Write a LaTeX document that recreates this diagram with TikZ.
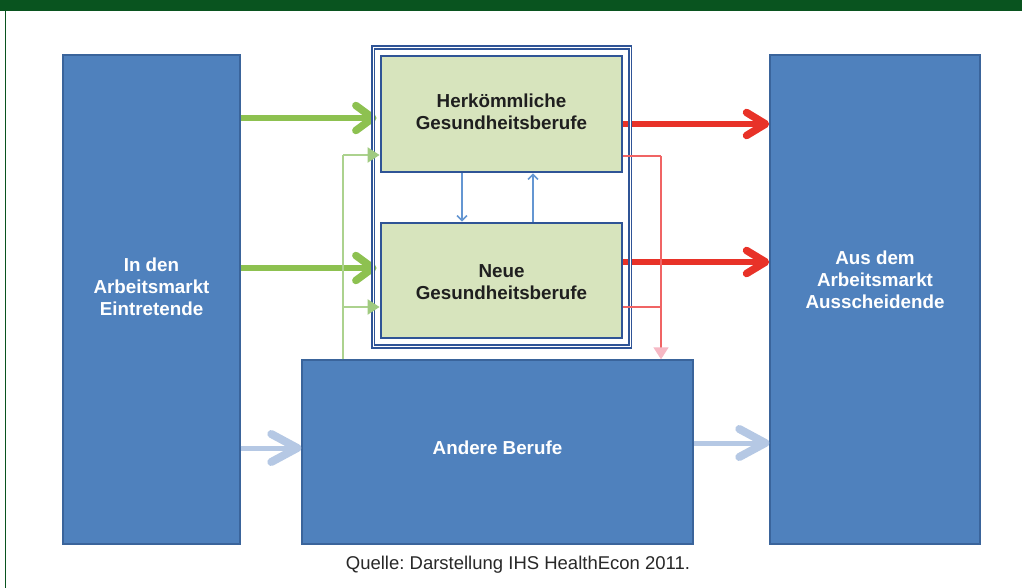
\documentclass[tikz,border=0pt]{standalone}
\usepackage{fontspec}
\setmainfont{Liberation Sans}
\usetikzlibrary{arrows.meta}
\definecolor{barg}{RGB}{9,84,31}
\definecolor{boxblue}{RGB}{79,129,189}
\definecolor{boxedge}{RGB}{58,100,155}
\definecolor{frameblue}{RGB}{47,84,150}
\definecolor{greenfill}{RGB}{215,228,189}
\definecolor{thickgreen}{RGB}{141,193,80}
\definecolor{thingreen}{RGB}{172,210,142}
\definecolor{greentip}{RGB}{160,202,128}
\definecolor{thickred}{RGB}{232,50,40}
\definecolor{thinred}{RGB}{240,100,100}
\definecolor{pinktip}{RGB}{246,184,196}
\definecolor{lightblue}{RGB}{181,200,228}
\definecolor{thinblue}{RGB}{100,150,210}
\definecolor{captiongray}{RGB}{40,40,40}
\begin{document}
\frenchspacing
\begin{tikzpicture}[x=1pt,y=-1pt,
  bluebox/.style={draw=boxedge,line width=1.4pt,fill=boxblue,inner sep=0pt},
  greenbox/.style={draw=frameblue,line width=2.8pt,fill=greenfill,inner sep=0pt,minimum width=241pt},
  whitetext/.style={text=white,align=center,inner sep=0pt,font=\bfseries\fontsize{18.8}{22}\selectfont},
  darktext/.style={text=black!88,align=center,inner sep=0pt,font=\bfseries\fontsize{18.8}{22}\selectfont},
  greenarrow/.style={thickgreen,line width=6pt,-{Straight Barb[length=17pt,width=25pt,line width=7.5pt,round]}},
  redarrow/.style={thickred,line width=6pt,-{Straight Barb[length=19pt,width=23pt,line width=7.5pt,round]}},
  lbluearrow/.style={lightblue,line width=5pt,-{Straight Barb[length=26pt,width=28pt,line width=8pt,round]}},
  thingreenline/.style={thingreen,line width=2pt},
  thingreenarrow/.style={thingreen,line width=2pt,-{Triangle[length=12pt,width=15pt,color=greentip,fill=greentip]}},
  thinredline/.style={thinred,line width=1.5pt},
  thinredarrow/.style={thinred,line width=1.5pt,-{Triangle[length=12pt,width=15pt,color=pinktip,fill=pinktip]}},
  thinbluearrow/.style={thinblue,line width=1.5pt,-{Straight Barb[length=5pt,width=10pt,line width=1.5pt]}},
  framebox/.style={draw=frameblue,line width=1.8pt,double=white,double distance=1pt,inner sep=0pt}
]
\useasboundingbox (0,0) rectangle (1022,588);
\fill[white] (0,0) rectangle (1022,588);
\fill[barg] (0,0) rectangle (1022,11.5);
\draw[barg,line width=1.5pt] (5.5,11) -- (5.5,588);

% boxes
\node[bluebox,minimum width=177pt,minimum height=489pt] (left) at (151.5,299.5) {};
\node[bluebox,minimum width=210pt,minimum height=489pt] (right) at (875,299.5) {};
\node[bluebox,minimum width=391pt,minimum height=184pt] (andere) at (497.5,452) {};
\node[greenbox,minimum height=116pt] (herk) at (501.5,114) {};
\node[greenbox,minimum height=115pt] (neue) at (501.5,280.5) {};

% texts
\node[whitetext] (lefttext) at (151.5,287) {In den\\Arbeitsmarkt\\Eintretende};
\node[whitetext] (righttext) at (875,280) {Aus dem\\Arbeitsmarkt\\Ausscheidende};
\node[whitetext] (anderetext) at (497.5,447.3) {Andere Berufe};
\node[darktext] (herktext) at (501.5,111.3) {Herkömmliche\\Gesundheitsberufe};
\node[darktext] (neuetext) at (501.5,281.7) {Neue\\Gesundheitsberufe};

% thin blue arrows
\coordinate (bdown) at (462,200);
\coordinate (bup) at (533,200);
\draw[thinbluearrow] (herk.south -| bdown) -- (neue.north -| bdown);
\draw[thinbluearrow] (neue.north -| bup) -- (herk.south -| bup);

% thick arrows
\coordinate (g1) at (0,118);
\coordinate (g2) at (0,268);
\coordinate (r1) at (0,124);
\coordinate (r2) at (0,262);
\coordinate (lb1) at (0,448);
\coordinate (lb2) at (0,443);
\draw[greenarrow] (left.east |- g1) -- ([xshift=-3pt]herk.west |- g1);
\draw[greenarrow] (left.east |- g2) -- ([xshift=-3pt]neue.west |- g2);
\draw[redarrow] (herk.east |- r1) -- (right.west |- r1);
\draw[redarrow] (neue.east |- r2) -- (right.west |- r2);
\draw[lbluearrow] (left.east |- lb1) -- (andere.west |- lb1);
\draw[lbluearrow] (andere.east |- lb2) -- (right.west |- lb2);

% frame
\node[framebox,minimum width=257pt,minimum height=299pt] (frame) at (501.5,197) {};

% thin green lines
\coordinate (gtop) at (343,155);
\coordinate (gmid) at (343,307);
\draw[thingreenline] (andere.north -| gtop) -- (gtop);
\draw[thingreenarrow] (gtop) -- (herk.west |- gtop);
\draw[thingreenarrow] (gmid) -- (neue.west |- gmid);

% thin red lines
\coordinate (rtop) at (661,156);
\coordinate (rmid) at (661,307);
\draw[thinredline] (herk.east |- rtop) -- (rtop);
\draw[thinredline] (neue.east |- rmid) -- (rmid);
\draw[thinredarrow] (rtop) -- (andere.north -| rtop);

% caption
\node[anchor=base,text=captiongray,inner sep=0pt,font=\fontsize{18.5}{20}\selectfont] (caption) at (518,569) {Quelle: Darstellung IHS HealthEcon 2011.};
\end{tikzpicture}
\end{document}
